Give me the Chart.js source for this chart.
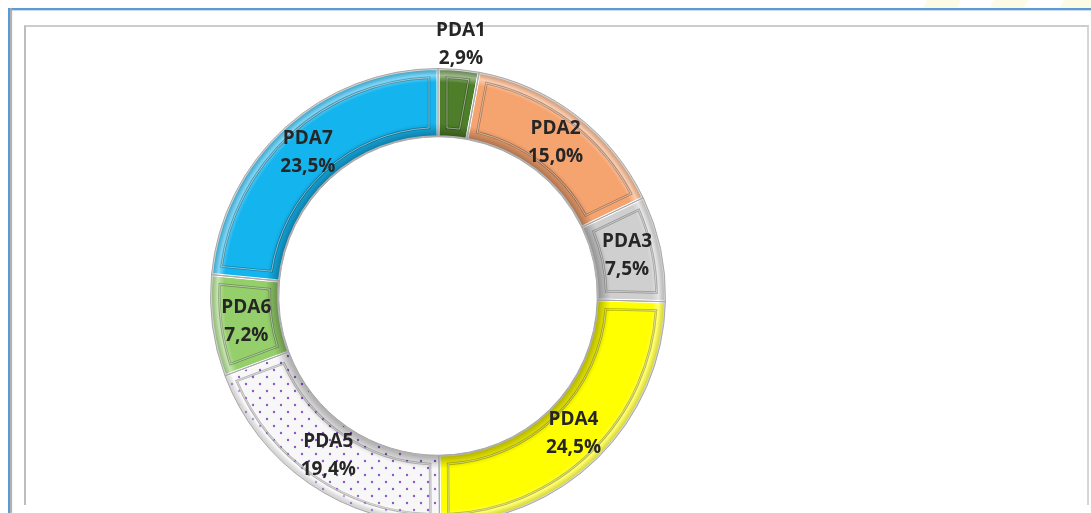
<!DOCTYPE html>
<html>
<head>
<meta charset="utf-8">
<script src="https://cdn.jsdelivr.net/npm/chart.js@4"></script>
<style>
  html, body { margin: 0; padding: 0; background: #fff; }
  body { width: 1091px; height: 513px; overflow: hidden; position: relative; }
  .stripe { position: absolute; top: 0; height: 8px; width: 34px; background: #fcfce6; transform: skewX(-25deg); }
  #blueTop { position: absolute; left: 8px; top: 8px; width: 1083px; height: 2px; background: #5b9bd5; box-shadow: 0 1px 1px #c9d9ea; }
  #blueLeft { position: absolute; left: 8px; top: 8px; width: 2px; height: 505px; background: #5b9bd5; box-shadow: 2px 0 1px #a9a9a9; }
  #frame { position: absolute; left: 24px; top: 25px; width: 1061px; height: 478px; border-top: 2px solid #cdcdcd; border-left: 2px solid #bdbdbd; border-right: 2px solid #d6d6d6; border-bottom: none; }
  #wrap { position: absolute; left: 138px; top: -4px; width: 600px; height: 600px; }
</style>
</head>
<body>
<div class="stripe" style="left:925px"></div>
<div class="stripe" style="left:992px"></div>
<div class="stripe" style="left:1062px"></div>
<div id="blueTop"></div>
<div id="blueLeft"></div>
<div id="frame"></div>
<div id="wrap"><canvas id="chart" width="600" height="600"></canvas></div>
<script>
const categories = ['PDA1', 'PDA2', 'PDA3', 'PDA4', 'PDA5', 'PDA6', 'PDA7'];
const shares = [2.9, 15.0, 7.5, 24.5, 19.4, 7.2, 23.5];
const valueLabels = ['2,9%', '15,0%', '7,5%', '24,5%', '19,4%', '7,2%', '23,5%'];
const fills = ['#4e7e2a', '#f6a46f', '#cfcfcf', '#ffff00', null, '#95cf6c', '#14b4ee'];

// dotted fill for PDA5
const tile = document.createElement('canvas');
tile.width = 14; tile.height = 14;
const tctx = tile.getContext('2d');
tctx.fillStyle = '#f7f7f7';
tctx.fillRect(0, 0, 14, 14);
tctx.fillStyle = '#8f55c8';
[[3, 3], [10, 10]].forEach(function(p) {
  tctx.beginPath(); tctx.arc(p[0], p[1], 1.2, 0, Math.PI * 2); tctx.fill();
});
fills[4] = tctx.createPattern(tile, 'repeat');

function arcPath(ctx, x, y, r1, r2, a1, a2) {
  ctx.beginPath();
  ctx.arc(x, y, r2, a1, a2);
  ctx.arc(x, y, r1, a2, a1, true);
  ctx.closePath();
}

// raised-panel look on every segment
const bevel = {
  id: 'bevel',
  afterDatasetsDraw(chart) {
    const ctx = chart.ctx;
    chart.getDatasetMeta(0).data.forEach(function(arc) {
      const p = arc.getProps(['x', 'y', 'startAngle', 'endAngle', 'innerRadius', 'outerRadius']);
      ctx.save();
      arcPath(ctx, p.x, p.y, p.innerRadius, p.outerRadius, p.startAngle, p.endAngle);
      ctx.clip();
      const g = ctx.createRadialGradient(p.x, p.y, p.innerRadius, p.x, p.y, p.outerRadius);
      g.addColorStop(0, 'rgba(0,0,0,0.32)');
      g.addColorStop(0.13, 'rgba(0,0,0,0.10)');
      g.addColorStop(0.2, 'rgba(0,0,0,0)');
      g.addColorStop(0.8, 'rgba(255,255,255,0)');
      g.addColorStop(0.9, 'rgba(255,255,255,0.45)');
      g.addColorStop(1, 'rgba(120,120,120,0.35)');
      ctx.fillStyle = g;
      ctx.fillRect(p.x - p.outerRadius, p.y - p.outerRadius, p.outerRadius * 2, p.outerRadius * 2);
      // inset panel
      const ins = 9;
      const da1 = ins / (p.innerRadius + ins), da2 = ins / (p.outerRadius - ins);
      if (p.endAngle - p.startAngle > 2 * da1 + 0.01) {
        ctx.beginPath();
        ctx.arc(p.x, p.y, p.outerRadius - ins, p.startAngle + da2, p.endAngle - da2);
        ctx.arc(p.x, p.y, p.innerRadius + ins, p.endAngle - da1, p.startAngle + da1, true);
        ctx.closePath();
        ctx.lineWidth = 2.5;
        ctx.strokeStyle = 'rgba(0,0,0,0.28)';
        ctx.stroke();
        ctx.lineWidth = 1;
        ctx.strokeStyle = 'rgba(255,255,255,0.5)';
        ctx.stroke();
      }
      ctx.restore();
      ctx.save();
      arcPath(ctx, p.x, p.y, p.innerRadius, p.outerRadius, p.startAngle, p.endAngle);
      ctx.lineWidth = 1;
      ctx.strokeStyle = '#a8a8a8';
      ctx.stroke();
      ctx.restore();
    });
  }
};

// category + percent label on each slice, PDA1 sits outside
const sliceLabels = {
  id: 'sliceLabels',
  afterDraw(chart) {
    const ctx = chart.ctx;
    ctx.save();
    ctx.font = 'bold 19px "Open Sans", sans-serif';
    ctx.fillStyle = '#262626';
    ctx.textAlign = 'center';
    ctx.textBaseline = 'middle';
    chart.getDatasetMeta(0).data.forEach(function(arc, i) {
      const p = arc.getProps(['x', 'y', 'startAngle', 'endAngle', 'innerRadius', 'outerRadius']);
      const mid = (p.startAngle + p.endAngle) / 2;
      const r = i === 0 ? p.outerRadius + 25 : (p.innerRadius + p.outerRadius) / 2;
      const lx = p.x + Math.cos(mid) * r;
      const ly = p.y + Math.sin(mid) * r;
      ctx.fillText(categories[i], lx, ly - 14);
      ctx.fillText(valueLabels[i], lx, ly + 14);
    });
    ctx.restore();
  }
};

new Chart(document.getElementById('chart'), {
  type: 'doughnut',
  data: {
    labels: categories,
    datasets: [{
      data: shares,
      backgroundColor: fills,
      borderColor: '#ffffff',
      borderWidth: 3
    }]
  },
  options: {
    responsive: false,
    animation: false,
    cutout: '70%',
    rotation: 0,
    layout: { padding: 71 },
    plugins: { legend: { display: false }, tooltip: { enabled: false } }
  },
  plugins: [bevel, sliceLabels]
});
</script>
</body>
</html>
